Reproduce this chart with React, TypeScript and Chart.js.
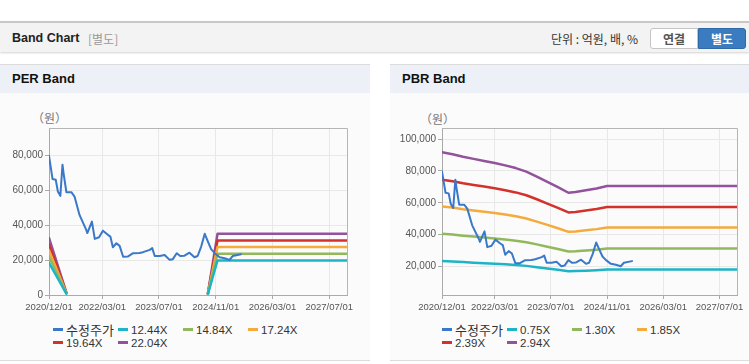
import React, { useEffect, useRef } from "react";
import { Chart, registerables } from "chart.js";

Chart.register(...registerables);

// ---------- data ----------
const xTickMonths = [0, 15, 31, 47, 63, 79];
const xTickLabels = ["2020/12/01", "2022/03/01", "2023/07/01", "2024/11/01", "2026/03/01", "2027/07/01"];

// months since 2020/12/01
const priceMonths = [0, 0.5, 1.0, 1.9, 2.5, 3.2, 3.8, 4.1, 4.9, 6.3, 7.2, 8.6, 10.5, 10.8, 12.1, 12.9, 14.1, 15.2, 16.6, 17.3, 18.0, 19.0, 19.9, 20.9, 22.2, 23.7, 25.5, 26.5, 28.4, 29.1, 29.8, 31.2, 32.6, 34.0, 34.9, 36.0, 37.0, 38.2, 39.6, 41.0, 41.9, 42.9, 43.9, 44.8, 45.7, 46.7, 48.1, 49.5, 50.9, 51.8, 54.1];
const priceValues = [79600, 73000, 66300, 65900, 59200, 56700, 74500, 69700, 58800, 58800, 56300, 45800, 37200, 35400, 42000, 32100, 33000, 36800, 34400, 33400, 27300, 29600, 28100, 21900, 22000, 23900, 24000, 24500, 25800, 26800, 22300, 22300, 22900, 20100, 20500, 23900, 22300, 22500, 24200, 21600, 22300, 27700, 35000, 30500, 26200, 23900, 21600, 21000, 20100, 22300, 23300];

// PER band
const perBandMonths = [0, 4.9, 25, 44.8, 47.5, 84];
const per1244 = [18400, 750, null, 600, 19760, 19760];
const per1484 = [21960, 890, null, 720, 23570, 23570];
const per1724 = [25500, 1040, null, 830, 27380, 27380];
const per1964 = [29070, 1180, null, 950, 31190, 31190];
const per2204 = [32620, 1320, null, 1060, 35000, 35000];

// PBR band
const pbrBandMonths = [0, 3, 6, 9, 12, 15, 18, 21, 24, 27, 30, 33, 36, 38, 41, 44, 47, 84];
const pbr075 = [23390, 23090, 22680, 22350, 22010, 21680, 21300, 20870, 20310, 19520, 18670, 17810, 16910, 17020, 17300, 17600, 17990, 17990];
const pbr130 = [40550, 40020, 39310, 38740, 38160, 37590, 36920, 36170, 35200, 33830, 32370, 30870, 29320, 29500, 29980, 30510, 31180, 31180];
const pbr185 = [57710, 56950, 55940, 55120, 54310, 53490, 52550, 51480, 50090, 48140, 46070, 43930, 41720, 41970, 42670, 43420, 44370, 44370];
const pbr239 = [74540, 73570, 72270, 71210, 70150, 69100, 67880, 66500, 64710, 62190, 59500, 56740, 53900, 54220, 55110, 56090, 57310, 57310];
const pbr294 = [91700, 90500, 88900, 87600, 86300, 85000, 83500, 81800, 79600, 76500, 73200, 69800, 66300, 66700, 67800, 69000, 70500, 70500];

const perYTicks = [0, 20000, 40000, 60000, 80000];
const pbrYTicks = [20000, 40000, 60000, 80000, 100000];

const perLabels = ["수정주가", "12.44X", "14.84X", "17.24X", "19.64X", "22.04X"];
const pbrLabels = ["수정주가", "0.75X", "1.30X", "1.85X", "2.39X", "2.94X"];
const seriesColors = ["#3a78c9", "#1db4c6", "#92b85c", "#f4aa3c", "#d2322b", "#92529c"];

// ---------- helpers ----------
const pts = (xs: number[], ys: (number | null)[]) => xs.map((x, i) => ({ x, y: ys[i] }));

const FONT = '"Liberation Sans", Arial, "Noto Sans CJK KR", sans-serif';
const KFONT = '"Noto Sans CJK KR", "Liberation Sans", sans-serif';

const borderPlugin = {
  id: "plotBorder",
  afterDraw(chart: any) {
    const { ctx, chartArea } = chart;
    ctx.save();
    ctx.strokeStyle = "#b5b5b5";
    ctx.lineWidth = 1;
    ctx.beginPath();
    ctx.moveTo(chartArea.left, chartArea.top + 0.5);
    ctx.lineTo(chartArea.right + 0.5, chartArea.top + 0.5);
    ctx.lineTo(chartArea.right + 0.5, chartArea.bottom);
    ctx.stroke();
    ctx.restore();
  },
};

function BandChart(props: {
  width: number;
  height: number;
  yAxisWidth: number;
  padRight: number;
  padTop: number;
  yMin: number;
  yMax: number;
  yTicks: number[];
  bandMonths: number[];
  bands: (number | null)[][];
}) {
  const ref = useRef<HTMLCanvasElement>(null);
  useEffect(() => {
    if (!ref.current) return;
    const datasets: any[] = [
      {
        data: pts(priceMonths, priceValues),
        borderColor: seriesColors[0],
        borderWidth: 2,
      },
      ...props.bands.map((b, i) => ({
        data: pts(props.bandMonths, b),
        borderColor: seriesColors[i + 1],
        borderWidth: 2.5,
      })),
    ];
    const chart = new Chart(ref.current, {
      type: "line",
      data: { datasets },
      plugins: [borderPlugin],
      options: {
        animation: false,
        responsive: false,
        maintainAspectRatio: false,
        layout: { padding: { top: props.padTop, right: props.padRight, left: 0, bottom: 0 } },
        plugins: { legend: { display: false }, tooltip: { enabled: false } },
        elements: { point: { radius: 0 }, line: { tension: 0, borderJoinStyle: "round", borderCapStyle: "round" } },
        scales: {
          x: {
            type: "linear",
            min: 0,
            max: 84,
            afterBuildTicks: (s: any) => {
              s.ticks = xTickMonths.map((v) => ({ value: v }));
            },
            afterFit: (s: any) => {
              s.height = 20;
            },
            ticks: {
              autoSkip: false,
              maxRotation: 0,
              padding: 3,
              color: "#555",
              font: { family: FONT, size: 9.5 },
              callback: (v: any) => xTickLabels[xTickMonths.indexOf(Number(v))] ?? "",
            },
            grid: { color: "#e8e8e8", tickColor: "#aaa", tickLength: 4 },
            border: { color: "#aaa" },
          },
          y: {
            type: "linear",
            min: props.yMin,
            max: props.yMax,
            afterBuildTicks: (s: any) => {
              s.ticks = props.yTicks.map((v) => ({ value: v }));
            },
            afterFit: (s: any) => {
              s.width = props.yAxisWidth;
            },
            ticks: {
              padding: 2,
              color: "#555",
              font: { family: FONT, size: 10 },
              callback: (v: any) => Number(v).toLocaleString("en-US"),
            },
            grid: { color: "#e8e8e8", tickColor: "#aaa", tickLength: 4 },
            border: { color: "#aaa" },
          },
        },
      } as any,
    });
    return () => chart.destroy();
  }, []);
  return (
    <canvas
      ref={ref}
      width={props.width}
      height={props.height}
      style={{ width: props.width, height: props.height, display: "block" }}
    />
  );
}

function Legend(props: { labels: string[]; left: number; top: number }) {
  return (
    <div style={{ position: "absolute", left: props.left, top: props.top, width: 280, height: 30 }}>
      {props.labels.map((l, i) => {
        const row = Math.floor(i / 4);
        const col = i % 4;
        return (
          <div
            key={l}
            style={{
              position: "absolute",
              left: col * 65,
              top: row * 13,
              height: 13,
              display: "flex",
              alignItems: "center",
              whiteSpace: "nowrap",
              color: "#333",
            }}
          >
            <span style={{ display: "inline-block", width: 10, height: 2.5, background: seriesColors[i], marginRight: 3 }} />
            <span style={{ fontFamily: i === 0 ? KFONT : FONT, fontSize: i === 0 ? 13 : 11.5 }}>{l}</span>
          </div>
        );
      })}
    </div>
  );
}

function Panel(props: { left: number; width: number; title: string }) {
  return (
    <div
      style={{
        position: "absolute",
        left: props.left,
        top: 64,
        width: props.width,
        height: 297,
        background: "#fbfbfb",
        borderTop: "1px solid #dcdcdc",
        borderBottom: "1px solid #dcdcdc",
        boxSizing: "border-box",
      }}
    >
      <div
        style={{
          height: 28,
          background: "#edf1f7",
          lineHeight: "28px",
          paddingLeft: 12,
          fontFamily: FONT,
          fontWeight: "bold",
          fontSize: 13,
          color: "#111",
        }}
      >
        {props.title}
      </div>
    </div>
  );
}

export default function App() {
  return (
    <div style={{ position: "absolute", left: 0, top: 0, width: 749, height: 364, background: "#fff", overflow: "hidden" }}>
      {/* header */}
      <div
        style={{
          position: "absolute",
          left: 0,
          top: 21,
          width: 749,
          height: 31,
          background: "#f3f3f3",
          borderTop: "2px solid #c8c8c8",
          boxShadow: "0 1px 2px rgba(0,0,0,0.18)",
          boxSizing: "border-box",
        }}
      >
        <span style={{ position: "absolute", left: 12, top: 8, fontFamily: FONT, fontWeight: "bold", fontSize: 12.5, color: "#222" }}>
          Band Chart
        </span>
        <span style={{ position: "absolute", left: 88, top: 7, fontFamily: KFONT, fontSize: 12, color: "#999" }}>[별도]</span>
        <span style={{ position: "absolute", left: 551, top: 7, fontFamily: KFONT, fontSize: 12, color: "#333" }}>
          단위 : 억원, 배, %
        </span>
        <div
          style={{
            position: "absolute",
            left: 650,
            top: 5,
            width: 48,
            height: 21,
            background: "#fff",
            border: "1px solid #c5c5c5",
            borderRadius: "3px 0 0 3px",
            boxSizing: "border-box",
            textAlign: "center",
            lineHeight: "19px",
            fontFamily: KFONT,
            fontWeight: "bold",
            fontSize: 12,
            color: "#555",
          }}
        >
          연결
        </div>
        <div
          style={{
            position: "absolute",
            left: 698,
            top: 5,
            width: 48,
            height: 21,
            background: "#3b7bc0",
            border: "1px solid #2f69a8",
            borderRadius: "0 3px 3px 0",
            boxSizing: "border-box",
            textAlign: "center",
            lineHeight: "19px",
            fontFamily: KFONT,
            fontWeight: "bold",
            fontSize: 12,
            color: "#fff",
          }}
        >
          별도
        </div>
      </div>

      <Panel left={0} width={370} title="PER Band" />
      <Panel left={390} width={359} title="PBR Band" />

      <span style={{ position: "absolute", left: 32, top: 109, fontFamily: KFONT, fontSize: 12, color: "#777" }}>（원）</span>
      <span style={{ position: "absolute", left: 420, top: 110, fontFamily: KFONT, fontSize: 12, color: "#777" }}>（원）</span>

      <div style={{ position: "absolute", left: 0, top: 120 }}>
        <BandChart
          width={370}
          height={195}
          yAxisWidth={49}
          padRight={23}
          padTop={8}
          yMin={0}
          yMax={95500}
          yTicks={perYTicks}
          bandMonths={perBandMonths}
          bands={[per1244, per1484, per1724, per1964, per2204]}
        />
      </div>
      <div style={{ position: "absolute", left: 380, top: 120 }}>
        <BandChart
          width={369}
          height={195}
          yAxisWidth={62}
          padRight={12}
          padTop={8}
          yMin={2000}
          yMax={107000}
          yTicks={pbrYTicks}
          bandMonths={pbrBandMonths}
          bands={[pbr075, pbr130, pbr185, pbr239, pbr294]}
        />
      </div>

      <Legend labels={perLabels} left={53} top={323} />
      <Legend labels={pbrLabels} left={442} top={323} />
    </div>
  );
}
